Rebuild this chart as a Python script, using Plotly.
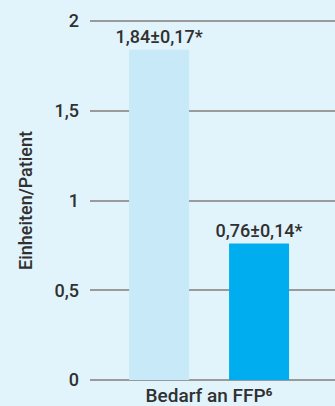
import plotly.graph_objects as go

# Requirement of fresh frozen plasma (units per patient)
category = ["Bedarf an FFP⁶"]
group_names = ["Kontrolle", "Intervention"]
means = [1.84, 0.76]
errors = [0.17, 0.14]
bar_colors = ["#c8e9f8", "#00adef"]
y_ticks = [0, 0.5, 1, 1.5, 2]

font_family = "Roboto, 'DejaVu Sans', sans-serif"
text_color = "#303030"


def fmt(v):
    return f"{v:.2f}".replace(".", ",")


fig = go.Figure()
for name, m, e, c in zip(group_names, means, errors, bar_colors):
    fig.add_trace(go.Bar(
        x=category,
        y=[m],
        name=name,
        marker=dict(color=c, line=dict(width=0)),
        text=[f"{fmt(m)}±{fmt(e)}*"],
        textposition="outside",
        constraintext="none",
        textfont=dict(family=font_family, size=18, color=text_color, weight=500),
        cliponaxis=False,
    ))

fig.update_layout(
    width=335,
    height=406,
    margin=dict(l=90, r=0, t=20, b=25),
    paper_bgcolor="#e1f3fb",
    plot_bgcolor="#e1f3fb",
    barmode="group",
    bargap=0.184,
    bargroupgap=0.4,
    showlegend=False,
    separators=",.",
    font=dict(family=font_family, color=text_color, weight=500),
)

fig.update_xaxes(
    range=[-0.486, 0.514],
    automargin=False,
    showgrid=False,
    zeroline=False,
    showline=False,
    ticks="",
    tickfont=dict(size=19, color=text_color, weight=500),
    ticklabelstandoff=1,
)

# small padding on both ends keeps the 0 and 2 grid lines visible
fig.update_yaxes(
    range=[-0.006, 2.006],
    automargin=False,
    tickvals=y_ticks,
    showgrid=True,
    gridcolor="#9a9a9a",
    gridwidth=2,
    zeroline=False,
    showline=False,
    ticks="",
    tickfont=dict(size=18, color=text_color, weight=500),
    ticklabelstandoff=10,
    title=dict(text="Einheiten/Patient", font=dict(size=18, color=text_color, weight=500), standoff=17),
)

fig.write_html("out.html")
